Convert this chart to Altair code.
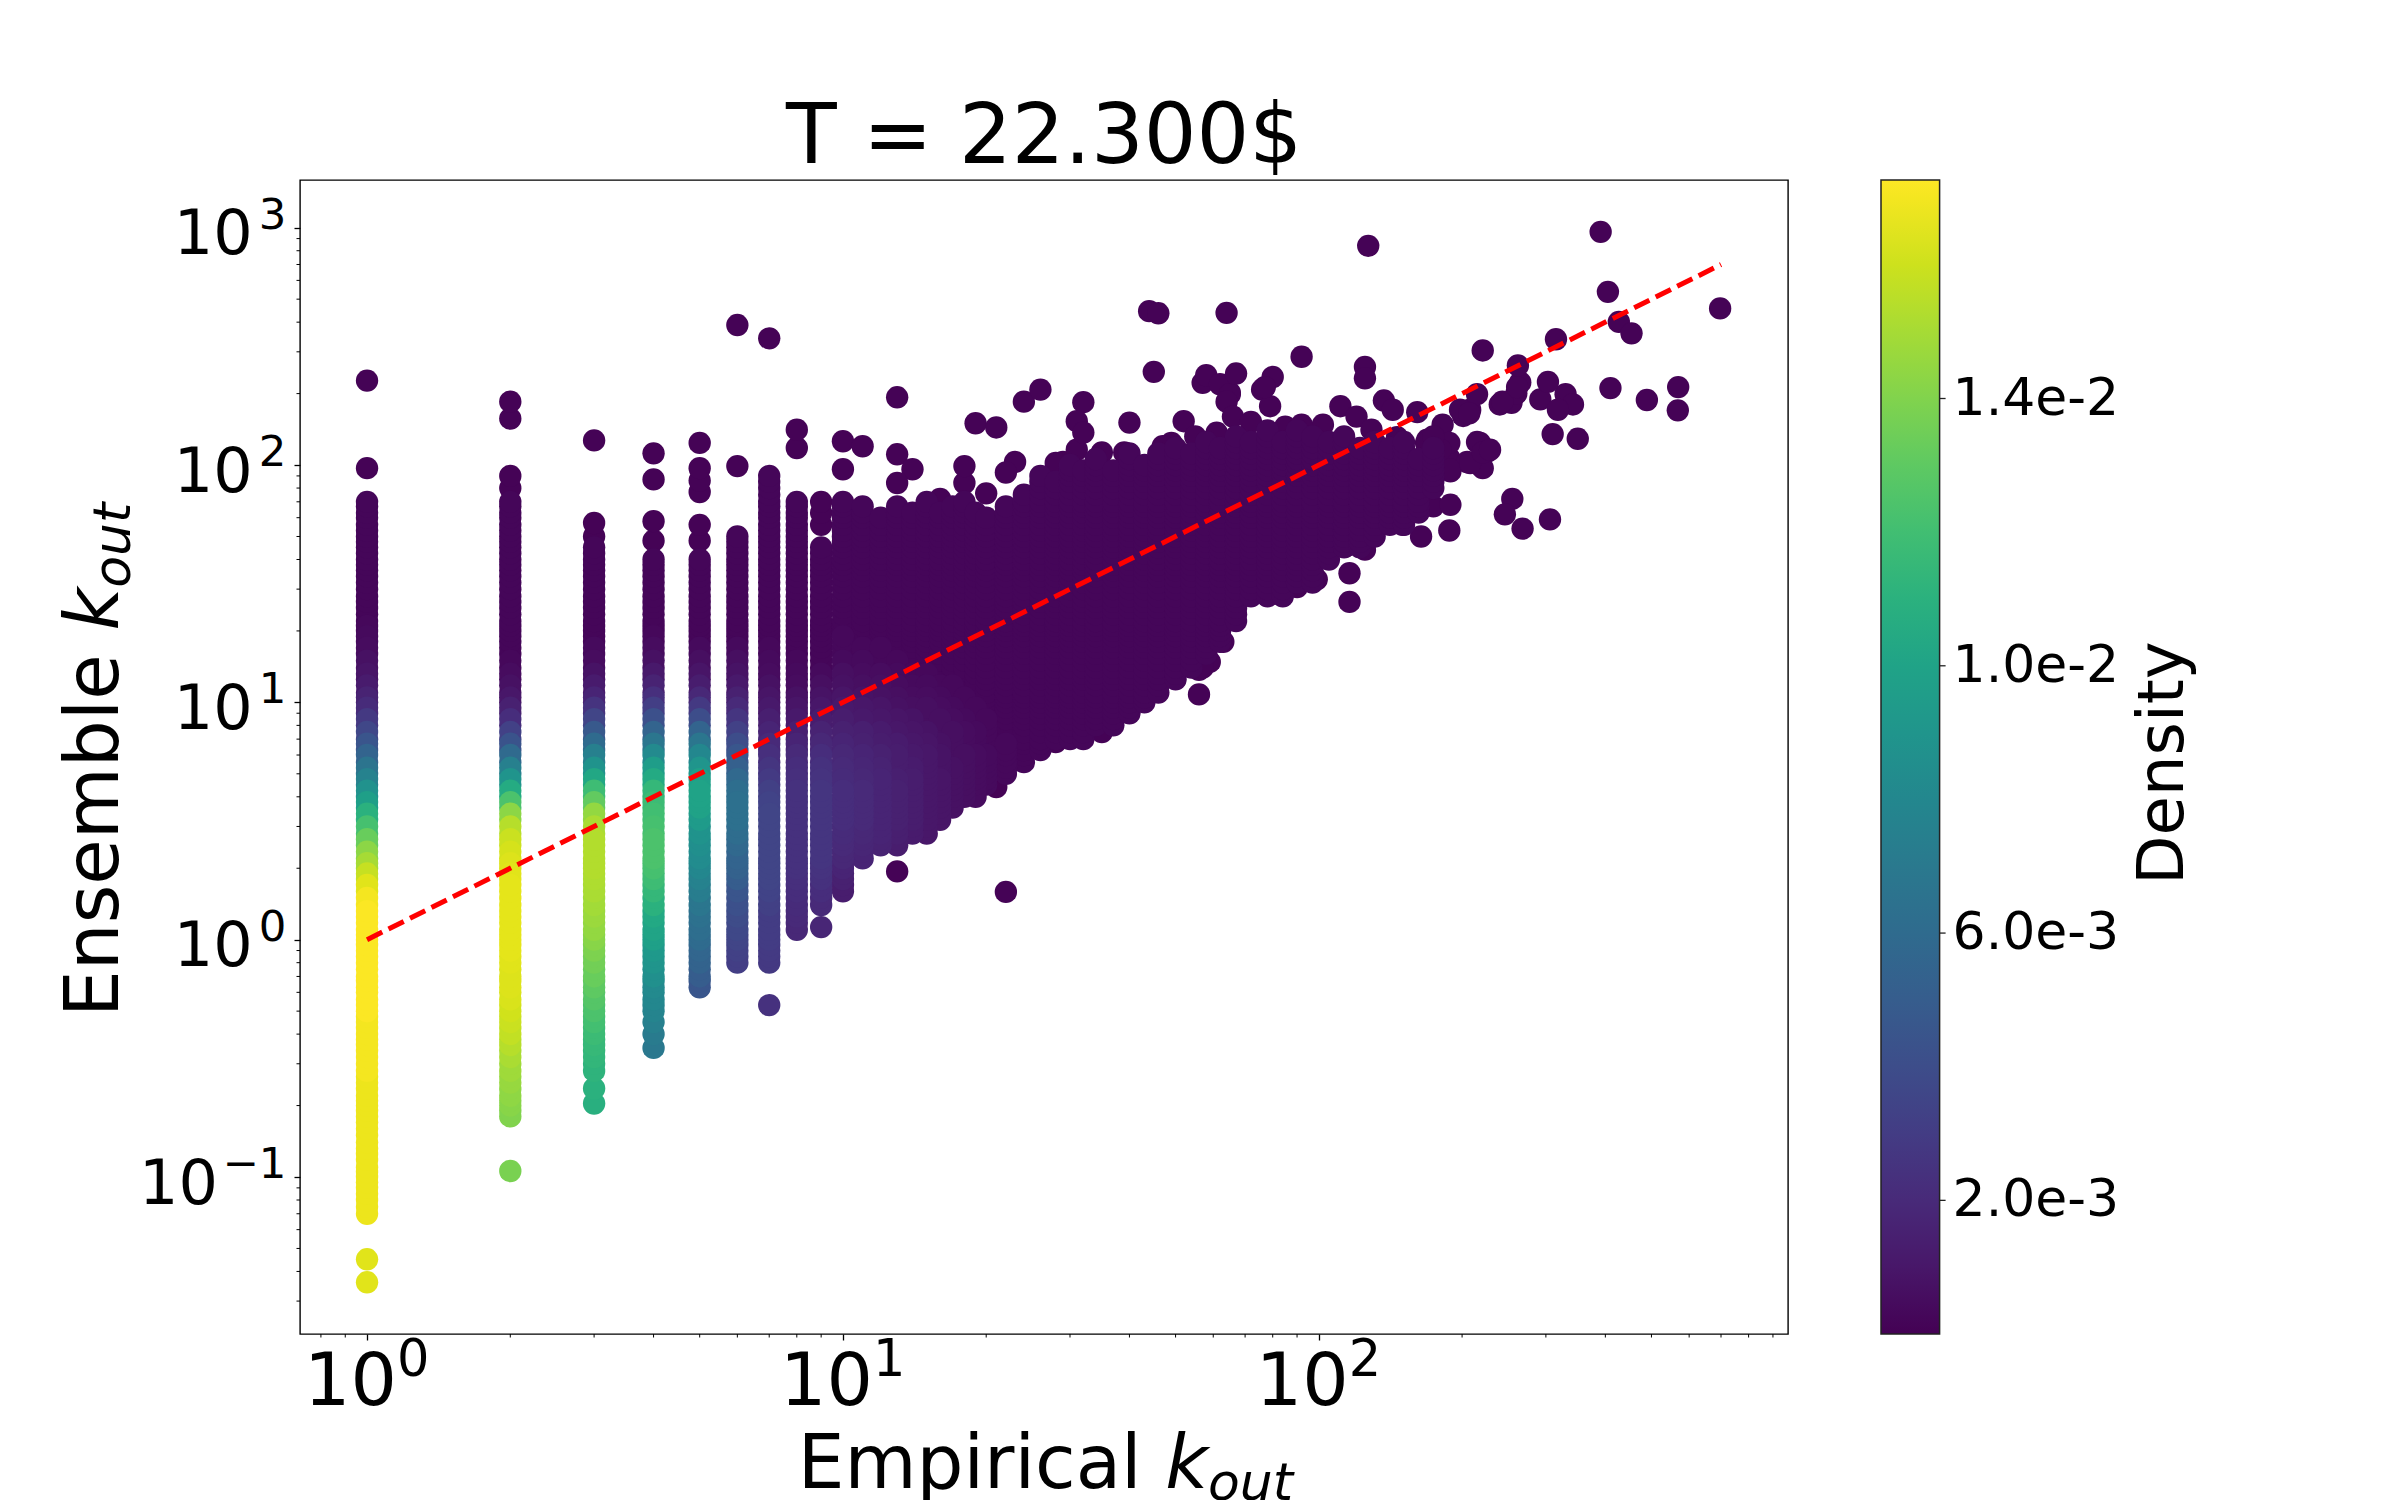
import altair as alt
import pandas as pd

# ---------------- values ----------------
X_LIMITS = [0.723, 968]
Y_LIMITS = [0.0218, 1589]
DENSITY_LIMITS = [0.0, 0.01727]

X_TICKS = [1, 10, 100]
X_TICK_EXP = ["0", "1", "2"]
Y_TICKS = [0.1, 1, 10, 100, 1000]
Y_TICK_EXP = ["−1", "0", "1", "2", "3"]
TICK_BASE = "10"
X_MINOR = [0.8, 0.9, 2, 3, 4, 5, 6, 7, 8, 9, 20, 30, 40, 50, 60, 70, 80, 90,
           200, 300, 400, 500, 600, 700, 800, 900]
Y_MINOR = [0.03, 0.04, 0.05, 0.06, 0.07, 0.08, 0.09, 0.2, 0.3, 0.4, 0.5, 0.6, 0.7, 0.8, 0.9,
           2, 3, 4, 5, 6, 7, 8, 9, 20, 30, 40, 50, 60, 70, 80, 90,
           200, 300, 400, 500, 600, 700, 800, 900]
CBAR_TICKS = [0.002, 0.006, 0.010, 0.014]

# y levels of the stacked points (fine), and the coarser levels at which densities were read
LEVELS = [0.07, 0.075, 0.08, 0.085, 0.09, 0.095, 0.1, 0.105, 0.11, 0.118, 0.125, 0.132, 0.14, 0.15,
          0.16, 0.17, 0.18, 0.19, 0.2, 0.21, 0.22, 0.235, 0.25, 0.265, 0.28, 0.3, 0.32, 0.34, 0.36,
          0.38, 0.4, 0.425, 0.45, 0.475, 0.5, 0.53, 0.56, 0.6, 0.63, 0.67, 0.7, 0.75, 0.8, 0.85, 0.9,
          0.95, 1.0, 1.05, 1.1, 1.18, 1.25, 1.32, 1.4, 1.5, 1.6, 1.7, 1.8, 1.9, 2.0, 2.1, 2.2, 2.35,
          2.5, 2.65, 2.8, 3.0, 3.2, 3.4, 3.6, 3.8, 4.0, 4.25, 4.5, 4.75, 5.0, 5.3, 5.6, 6.0, 6.3, 6.7,
          7.0, 7.5, 8.0, 8.5, 9.0, 9.5, 10, 10.5, 11, 11.8, 12.5, 13.2, 14, 15, 16, 17, 18, 19, 20,
          21, 22, 23.5, 25, 26.5, 28, 30, 32, 34, 36, 38, 40, 42.5, 45, 47.5, 50, 53, 56, 60, 63, 67,
          70, 75, 80, 85, 90, 95, 100, 106, 112, 118, 125, 132, 140, 150, 160]
PROFILE_LEVELS = [0.07, 0.08, 0.09, 0.1, 0.11, 0.125, 0.14, 0.16, 0.18, 0.2,
                  0.22, 0.25, 0.28, 0.32, 0.36, 0.4, 0.45, 0.5, 0.56, 0.63,
                  0.7, 0.8, 0.9, 1.0, 1.1, 1.25, 1.4, 1.6, 1.8, 2.0,
                  2.2, 2.5, 2.8, 3.2, 3.6, 4.0, 4.5, 5.0, 5.6, 6.3,
                  7.0, 8.0, 9.0, 10, 11, 12.5, 14, 16, 18, 20,
                  22, 25, 28, 32, 36, 40, 45, 50, 56, 63,
                  70, 80, 90, 100, 112, 125, 140, 160]

# dense vertical strips at small integer k: x, lowest/highest y, density per profile level
STRIP_X = [1, 2, 3, 4, 5, 6, 7, 8, 9]
STRIP_LO = [0.07, 0.18, 0.28, 0.5, 0.63, 0.8, 0.8, 1.1, 1.4]
STRIP_HI = [70, 70, 45, 40, 40, 50, 90, 70, 45]
STRIP_D = [
    [0.0168, 0.0168, 0.0168, 0.0168, 0.0168, 0.0168, 0.0168, 0.0168, 0.0168, 0.0168, 0.0168, 0.0168,
     0.0170, 0.0170, 0.0170, 0.0170, 0.0170,
     0.0172, 0.0172, 0.0172, 0.0172, 0.0172, 0.0172, 0.0172, 0.0172, 0.0172,
     0.0170, 0.0165, 0.0158, 0.0150, 0.0143, 0.0133, 0.0122, 0.0110, 0.0097, 0.0087, 0.0076, 0.0066,
     0.0055, 0.0045, 0.0036, 0.0028, 0.0021, 0.0016, 0.0012, 0.0009, 0.0007, 0.0005, 0.0004, 0.0003,
     0.0002, 0.0002, 0.0002, 0.0002, 0.0002, 0.0002, 0.0002, 0.0002, 0.0002, 0.0002, 0.0002],
    [0.0140, 0.0142, 0.0144, 0.0146, 0.0148, 0.0151, 0.0154, 0.0157, 0.0159, 0.0161, 0.0163, 0.0164,
     0.0164, 0.0165, 0.0166, 0.0166, 0.0166, 0.0166, 0.0166, 0.0166, 0.0165, 0.0164, 0.0162, 0.0159,
     0.0154, 0.0143, 0.0124, 0.0106, 0.0089, 0.0074, 0.0059, 0.0044, 0.0033, 0.0022, 0.0015, 0.0010,
     0.0007, 0.0005, 0.0003,
     0.0002, 0.0002, 0.0002, 0.0002, 0.0002, 0.0002, 0.0002, 0.0002, 0.0002, 0.0002, 0.0002, 0.0002,
     0.0002, 0.0002],
    [0.0112, 0.0114, 0.0116, 0.0118, 0.0121, 0.0124, 0.0127, 0.0130, 0.0133, 0.0136, 0.0139, 0.0142,
     0.0145, 0.0147, 0.0149, 0.0151, 0.0152, 0.0153, 0.0153, 0.0153, 0.0151, 0.0145, 0.0131, 0.0119,
     0.0103, 0.0088, 0.0074, 0.0060, 0.0048, 0.0035, 0.0025, 0.0017, 0.0012, 0.0008, 0.0005, 0.0004,
     0.0002, 0.0002, 0.0002, 0.0002, 0.0002, 0.0002, 0.0002, 0.0002, 0.0002],
    [0.0077, 0.0080, 0.0082, 0.0086, 0.0090, 0.0093, 0.0098, 0.0101, 0.0104, 0.0110, 0.0115, 0.0119,
     0.0122, 0.0124, 0.0124, 0.0122, 0.0120, 0.0118, 0.0115, 0.0105, 0.0096, 0.0082, 0.0068, 0.0055,
     0.0042, 0.0031, 0.0023, 0.0016, 0.0011, 0.0007, 0.0005, 0.0003,
     0.0002, 0.0002, 0.0002, 0.0002, 0.0002, 0.0002, 0.0002],
    [0.0046, 0.0050, 0.0054, 0.0056, 0.0060, 0.0062, 0.0064, 0.0068, 0.0072, 0.0076, 0.0080, 0.0083,
     0.0085, 0.0088, 0.0094, 0.0099, 0.0100, 0.0098, 0.0090, 0.0080, 0.0068, 0.0055, 0.0040, 0.0028,
     0.0019, 0.0013, 0.0009, 0.0006, 0.0004,
     0.0002, 0.0002, 0.0002, 0.0002, 0.0002, 0.0002, 0.0002, 0.0002],
    [0.0031, 0.0033, 0.0035, 0.0037, 0.0039, 0.0042, 0.0045, 0.0050, 0.0053, 0.0055, 0.0058, 0.0061,
     0.0063, 0.0063, 0.0062, 0.0058, 0.0052, 0.0046, 0.0040, 0.0033, 0.0026, 0.0020, 0.0015, 0.0011,
     0.0008, 0.0006, 0.0004,
     0.0002, 0.0002, 0.0002, 0.0002, 0.0002, 0.0002, 0.0002, 0.0002, 0.0002, 0.0002],
    [0.0028, 0.0029, 0.0030, 0.0030, 0.0030, 0.0032, 0.0034, 0.0035, 0.0035, 0.0035, 0.0035, 0.0035,
     0.0035, 0.0034, 0.0032, 0.0029, 0.0026, 0.0023, 0.0020, 0.0017, 0.0014, 0.0011, 0.0009, 0.0007,
     0.0005, 0.0004, 0.0003,
     0.0002, 0.0002, 0.0002, 0.0002, 0.0002, 0.0002, 0.0002, 0.0002, 0.0002, 0.0002, 0.0002, 0.0002,
     0.0002, 0.0002, 0.0002],
    [0.0019, 0.0020, 0.0021, 0.0022, 0.0023, 0.0024, 0.0024, 0.0024, 0.0024, 0.0024, 0.0024, 0.0024,
     0.0023, 0.0022, 0.0020, 0.0017, 0.0014, 0.0011, 0.0009, 0.0007, 0.0005, 0.0004, 0.0003,
     0.0002, 0.0002, 0.0002, 0.0002, 0.0002, 0.0002, 0.0002, 0.0002, 0.0002, 0.0002, 0.0002, 0.0002,
     0.0002, 0.0002],
    [0.0020, 0.0022, 0.0024, 0.0025, 0.0026, 0.0026, 0.0026, 0.0026, 0.0026, 0.0026, 0.0025, 0.0024,
     0.0022, 0.0019, 0.0016, 0.0013, 0.0010, 0.0008, 0.0006, 0.0004,
     0.0002, 0.0002, 0.0002, 0.0002, 0.0002, 0.0002, 0.0002, 0.0002, 0.0002, 0.0002, 0.0002],
]

# isolated points above / below the strips
EXTRA_X = [1, 1, 1, 1, 2, 2, 2, 2, 2, 3, 3, 3, 3, 3, 4, 4, 4, 4, 4, 4, 4,
           5, 5, 5, 5, 5, 5, 6, 6, 7, 7, 8, 8, 9, 9, 9, 9]
EXTRA_Y = [0.036, 0.045, 97, 227, 0.106, 80, 90, 157, 185, 0.204, 0.236, 50, 57, 127,
           0.35, 0.40, 0.45, 48, 58, 87, 112, 48, 56, 77, 86, 97, 124, 99, 389,
           0.53, 342, 118, 141, 1.13, 56, 63, 70]
EXTRA_D = [0.0165, 0.0165, 0.0001, 0.0001, 0.0138, 0.0001, 0.0001, 0.0001, 0.0001,
           0.0109, 0.0110, 0.0001, 0.0001, 0.0001,
           0.0069, 0.0071, 0.0074, 0.0001, 0.0001, 0.0001, 0.0001,
           0.0001, 0.0001, 0.0001, 0.0001, 0.0001, 0.0001, 0.0001, 0.0001,
           0.0024, 0.0001, 0.0001, 0.0001, 0.0018, 0.0001, 0.0001, 0.0001]

# main cloud: columns of overlapping points (x, lowest y, highest y)
CLOUD_X = [10, 11, 12, 13, 14, 15, 16, 17, 18, 19, 20, 22, 24, 26, 28, 30, 32, 34, 37, 40,
           43, 46, 50, 54, 58, 62, 67, 72, 78, 84, 90, 97, 105, 113, 122, 131, 141, 151, 162, 174]
CLOUD_LO = [1.6, 2.2, 2.5, 2.5, 2.8, 2.8, 3.2, 3.6, 4.0, 4.0, 4.5, 5.0, 5.6, 6.3, 7.0, 7.0, 7.0, 8.0, 8.0, 9.0,
            10, 11, 12.5, 14, 16, 18, 22, 28, 28, 28, 32, 32, 40, 45, 45, 50, 56, 56, 63, 80]
CLOUD_HI = [70, 67, 60, 67, 63, 70, 63, 67, 70, 63, 60, 67, 75, 90, 85, 100, 95, 106, 95, 112,
            100, 112, 118, 112, 125, 118, 132, 125, 140, 125, 140, 132, 125, 132, 118, 125, 118, 125, 106, 118]
CLOUD_D = 0.0002
# lighter haze in the lower-left part of the cloud: density per haze level for each column
HAZE_LEVELS = [1.6, 1.8, 2.0, 2.2, 2.5, 2.8, 3.2, 3.6, 4.0, 4.5, 5.0, 5.6, 6.3, 7.0, 8.0, 9.0,
               10, 11, 12.5, 14, 16, 18, 20]
HAZE_X = [10, 11, 12, 13, 14, 15, 16, 17, 18, 19, 20, 22]
HAZE_D = [
    [.0013, .0015, .0017, .0019, .0020, .0021, .0022, .0022, .0022, .0021, .0020, .0019, .0017, .0015,
     .0013, .0011, .0009, .0007, .0006, .0004, .0003, .0003, .0002],
    [.0012, .0014, .0015, .0017, .0018, .0019, .0020, .0020, .0020, .0019, .0018, .0017, .0015, .0014,
     .0011, .0010, .0008, .0006, .0005, .0004, .0003, .0002, .0002],
    [.0010, .0012, .0013, .0014, .0016, .0017, .0017, .0017, .0017, .0017, .0016, .0015, .0013, .0012,
     .0010, .0009, .0007, .0006, .0005, .0003, .0003, .0002, .0002],
    [.0009, .0010, .0011, .0012, .0013, .0014, .0015, .0015, .0015, .0014, .0013, .0013, .0012, .0010,
     .0009, .0007, .0006, .0005, .0004, .0003, .0002, .0002, .0002],
    [.0007, .0009, .0010, .0010, .0011, .0012, .0013, .0013, .0013, .0013, .0012, .0011, .0010, .0009,
     .0008, .0006, .0005, .0004, .0003, .0002, .0002, .0002, .0002],
    [.0006, .0007, .0008, .0009, .0010, .0010, .0010, .0010, .0010, .0010, .0010, .0010, .0009, .0008,
     .0006, .0006, .0005, .0004, .0003, .0002, .0002, .0002, .0002],
    [.0006, .0006, .0006, .0007, .0008, .0008, .0009, .0009, .0009, .0009, .0008, .0008, .0007, .0006,
     .0006, .0005, .0004, .0003, .0002, .0002, .0002, .0002, .0002],
    [.0005, .0005, .0006, .0006, .0006, .0007, .0007, .0007, .0007, .0007, .0007, .0006, .0006, .0006,
     .0005, .0004, .0003, .0003, .0002, .0002, .0002, .0002, .0002],
    [.0004, .0004, .0005, .0005, .0006, .0006, .0006, .0006, .0006, .0006, .0006, .0006, .0005, .0005,
     .0004, .0003, .0003, .0002, .0002, .0002, .0002, .0002, .0002],
    [.0003, .0003, .0004, .0004, .0005, .0005, .0005, .0005, .0005, .0005, .0005, .0005, .0004, .0004,
     .0003, .0003, .0002, .0002, .0002, .0002, .0002, .0002, .0002],
    [.0002, .0003, .0003, .0003, .0004, .0004, .0004, .0004, .0004, .0004, .0004, .0004, .0003, .0003,
     .0003, .0002, .0002, .0002, .0002, .0002, .0002, .0002, .0002],
    [.0002, .0002, .0002, .0003, .0003, .0003, .0003, .0003, .0003, .0003, .0003, .0003, .0003, .0002,
     .0002, .0002, .0002, .0002, .0002, .0002, .0002, .0002, .0002],
]

# scattered points around the cloud
FRINGE_X = [10, 11, 10, 13, 13, 14, 13, 19, 21, 18, 18, 23, 24, 26, 29, 31, 32, 31, 32, 35, 40, 52, 57, 65,
            76, 79, 102, 111, 16, 20, 22, 28, 49, 55, 61, 39, 47,
            44, 46, 45, 64, 92, 125, 125, 127, 58, 62, 65, 67, 64, 66, 72, 80, 77, 85, 120, 137, 143, 161,
            129, 146, 92,
            22, 13, 21, 23, 28, 32, 35, 36, 36, 41, 43, 46, 56, 56, 59, 63, 57, 47, 76, 83, 90, 99, 116, 116,
            114, 124, 125, 129, 150, 164, 144, 174, 188, 189,
            182, 169, 186, 188, 189, 215, 226, 221, 205, 168, 188, 188, 208, 218, 221, 201, 208, 180, 174,
            229, 240, 254, 260, 265, 215, 198, 207, 243, 261, 262, 221, 292, 330, 342, 318, 303, 310, 350,
            255, 246, 268, 306, 315,
            391, 405, 427, 454, 697, 410, 489, 569, 568]
FRINGE_Y = [126, 120, 96, 193, 111, 96, 84, 150, 144, 84, 99, 103, 185, 208, 103, 116, 184, 153, 137, 113, 151,
            153, 222, 202, 208, 177, 148, 177, 72, 76, 93, 102, 124, 132, 137, 113, 120,
            445, 436, 247, 438, 286, 259, 232, 839, 239, 219, 199, 243, 185, 160, 152, 235, 213, 145, 160, 187,
            171, 167, 141, 131, 148,
            1.59, 1.94, 4.4, 5.7, 6.8, 7.7, 7.5, 9.6, 12.5, 10, 10.8, 13.4, 10.8, 13.7, 14.8, 18, 14, 13.5, 29,
            28.5, 30.6, 33, 35, 26.5, 45.5, 50, 44, 51, 56, 50, 57, 67, 53, 68,
            148, 128, 122, 107, 94, 125, 114, 97, 103, 124, 124, 96, 102, 124, 113, 161, 171, 116, 132,
            116, 180, 183, 200, 223, 199, 171, 165, 185, 213, 263, 304, 189, 199, 180, 171, 224, 135, 129,
            72, 62, 54, 59, 339,
            961, 537, 401, 359, 457, 211, 188, 213, 170]
FRINGE_D = 0.0001

# the y = x reference line
LINE_X = [1, 700]
LINE_Y = [1, 700]

TITLE = "T = 22.300$"
X_TITLE = ["Empirical", "k", "out"]
Y_TITLE = ["Ensemble", "k", "out"]
CBAR_TITLE = "Density"


# ---------------- build the table ----------------
def step_lookup(levels, values, y):
    """value read at the highest listed level that is not above y"""
    k = 0
    for i, lv in enumerate(levels):
        if lv <= y * 1.0000001:
            k = i
    return values[min(k, len(values) - 1)]


rows = []
for x, lo, hi, dens in zip(STRIP_X, STRIP_LO, STRIP_HI, STRIP_D):
    prof_levels = [v for v in PROFILE_LEVELS if lo <= v <= hi]
    for y in LEVELS:
        if lo <= y <= hi:
            rows.append((x, y, step_lookup(prof_levels, dens, y)))
for x, y, d in zip(EXTRA_X, EXTRA_Y, EXTRA_D):
    rows.append((x, y, d))
for x, lo, hi in zip(CLOUD_X, CLOUD_LO, CLOUD_HI):
    for y in LEVELS:
        if lo <= y <= hi:
            if x in HAZE_X:
                d = step_lookup(HAZE_LEVELS, HAZE_D[HAZE_X.index(x)], y)
            else:
                d = CLOUD_D
            rows.append((x, y, d))
for x, y in zip(FRINGE_X, FRINGE_Y):
    rows.append((x, y, FRINGE_D))

df = pd.DataFrame(rows, columns=["x", "y", "d"])

# ---------------- chart ----------------
W, H = 1488, 1154
FONT = "DejaVu Sans"

xscale = alt.Scale(type="log", domain=X_LIMITS, nice=False)
yscale = alt.Scale(type="log", domain=Y_LIMITS, nice=False)

x_axis = alt.Axis(values=X_TICKS, labels=False, title=None, grid=False, domain=False,
                  tickSize=6, tickWidth=1.3, tickColor="black")
y_axis = alt.Axis(values=Y_TICKS, labels=False, title=None, grid=False, domain=False,
                  tickSize=6, tickWidth=1.3, tickColor="black")

points = alt.Chart(df).mark_circle(size=500, opacity=1, strokeWidth=0).encode(
    x=alt.X("x:Q", scale=xscale, axis=x_axis),
    y=alt.Y("y:Q", scale=yscale, axis=y_axis),
    color=alt.Color("d:Q",
                    scale=alt.Scale(scheme="viridis", domain=DENSITY_LIMITS, nice=False),
                    legend=alt.Legend(orient="none", legendX=1581, legendY=0, direction="vertical",
                                      title=None, values=CBAR_TICKS, format=".1e",
                                      gradientLength=H, gradientThickness=58.6,
                                      gradientStrokeColor="#222222", gradientStrokeWidth=1.5,
                                      labelFont=FONT, labelFontSize=52, labelColor="black",
                                      labelOffset=13, labelOverlap=False, labelLimit=0,
                                      padding=0)),
    order=alt.Order("d:Q", sort="ascending"),
)

line = alt.Chart(pd.DataFrame({"x": LINE_X, "y": LINE_Y})).mark_line(
    color="#ff0000", strokeWidth=5, strokeDash=[17, 7]
).encode(
    x=alt.X("x:Q", scale=xscale, axis=x_axis),
    y=alt.Y("y:Q", scale=yscale, axis=y_axis),
)

minor_x = alt.Chart(pd.DataFrame({"x": X_MINOR})).mark_rule(color="black", strokeWidth=1.0).encode(
    x=alt.X("x:Q", scale=xscale, axis=x_axis),
    y=alt.value(H), y2=alt.value(H + 3.5),
)
minor_y = alt.Chart(pd.DataFrame({"y": Y_MINOR})).mark_rule(color="black", strokeWidth=1.0).encode(
    y=alt.Y("y:Q", scale=yscale, axis=y_axis),
    x=alt.value(0), x2=alt.value(-3.5),
)

# tick labels "10" with a raised exponent, placed through the axis scales
xlab = pd.DataFrame({"x": X_TICKS, "base": [TICK_BASE] * len(X_TICKS), "exp": X_TICK_EXP})
ylab = pd.DataFrame({"y": Y_TICKS, "base": [TICK_BASE] * len(Y_TICKS), "exp": Y_TICK_EXP})
ylab_pos = ylab[~ylab["exp"].str.startswith("−")]
ylab_neg = ylab[ylab["exp"].str.startswith("−")]

x_base = alt.Chart(xlab).mark_text(font=FONT, fontSize=73, align="left", baseline="alphabetic",
                                   dx=-63, color="black").encode(
    x=alt.X("x:Q", scale=xscale, axis=x_axis), y=alt.value(H + 71), text="base:N")
x_exp = alt.Chart(xlab).mark_text(font=FONT, fontSize=51, align="left", baseline="alphabetic",
                                  dx=30, color="black").encode(
    x=alt.X("x:Q", scale=xscale, axis=x_axis), y=alt.value(H + 42), text="exp:N")
y_exp = alt.Chart(ylab).mark_text(font=FONT, fontSize=43.4, align="right", baseline="alphabetic",
                                  dy=1, color="black").encode(
    y=alt.Y("y:Q", scale=yscale, axis=y_axis), x=alt.value(-13.6), text="exp:N")
y_base_pos = alt.Chart(ylab_pos).mark_text(font=FONT, fontSize=62, align="right", baseline="alphabetic",
                                           dy=26.6, color="black").encode(
    y=alt.Y("y:Q", scale=yscale, axis=y_axis), x=alt.value(-47.4), text="base:N")
y_base_neg = alt.Chart(ylab_neg).mark_text(font=FONT, fontSize=62, align="right", baseline="alphabetic",
                                           dy=26.6, color="black").encode(
    y=alt.Y("y:Q", scale=yscale, axis=y_axis), x=alt.value(-82), text="base:N")

main = alt.layer(points, line, minor_x, minor_y, x_base, x_exp, y_exp, y_base_pos, y_base_neg)

cbar_ticks = alt.Chart(pd.DataFrame({"c": CBAR_TICKS})).mark_rule(color="#222222", strokeWidth=1.3).encode(
    y=alt.Y("c:Q", scale=alt.Scale(domain=DENSITY_LIMITS, nice=False, zero=False), axis=None),
    x=alt.value(1581 + 58.6), x2=alt.value(1581 + 58.6 + 6),
)


def text_layer(txt, x, y, size, style="normal", angle=0, align="left"):
    return alt.Chart(pd.DataFrame({"t": [txt]})).mark_text(
        font=FONT, fontSize=size, fontStyle=style, angle=angle, align=align,
        baseline="alphabetic", color="black"
    ).encode(text="t:N", x=alt.value(x), y=alt.value(y))


texts = [
    text_layer(TITLE, W / 2, -16.7, 83, align="center"),
    text_layer(X_TITLE[0], 497.7, 1308.3, 74),
    text_layer(X_TITLE[1], 865.3, 1308.3, 74, style="italic"),
    text_layer(X_TITLE[2], 908, 1320.3, 52, style="italic"),
    text_layer(Y_TITLE[0], -181.7, 837, 74, angle=270),
    text_layer(Y_TITLE[1], -181.7, 450.6, 74, style="italic", angle=270),
    text_layer(Y_TITLE[2], -169.7, 407.8, 52, style="italic", angle=270),
    text_layer(CBAR_TITLE, 1883, 583, 64, angle=270, align="center"),
]

chart = alt.layer(main, cbar_ticks, *texts).resolve_scale(y="independent").properties(
    width=W, height=H,
    autosize=alt.AutoSizeParams(type="none"),
    padding={"left": 292, "top": 172, "right": 580, "bottom": 166},
).configure_view(stroke="black", strokeWidth=1.4)

chart.save("out.html", embed_options={"renderer": "svg", "actions": False})
